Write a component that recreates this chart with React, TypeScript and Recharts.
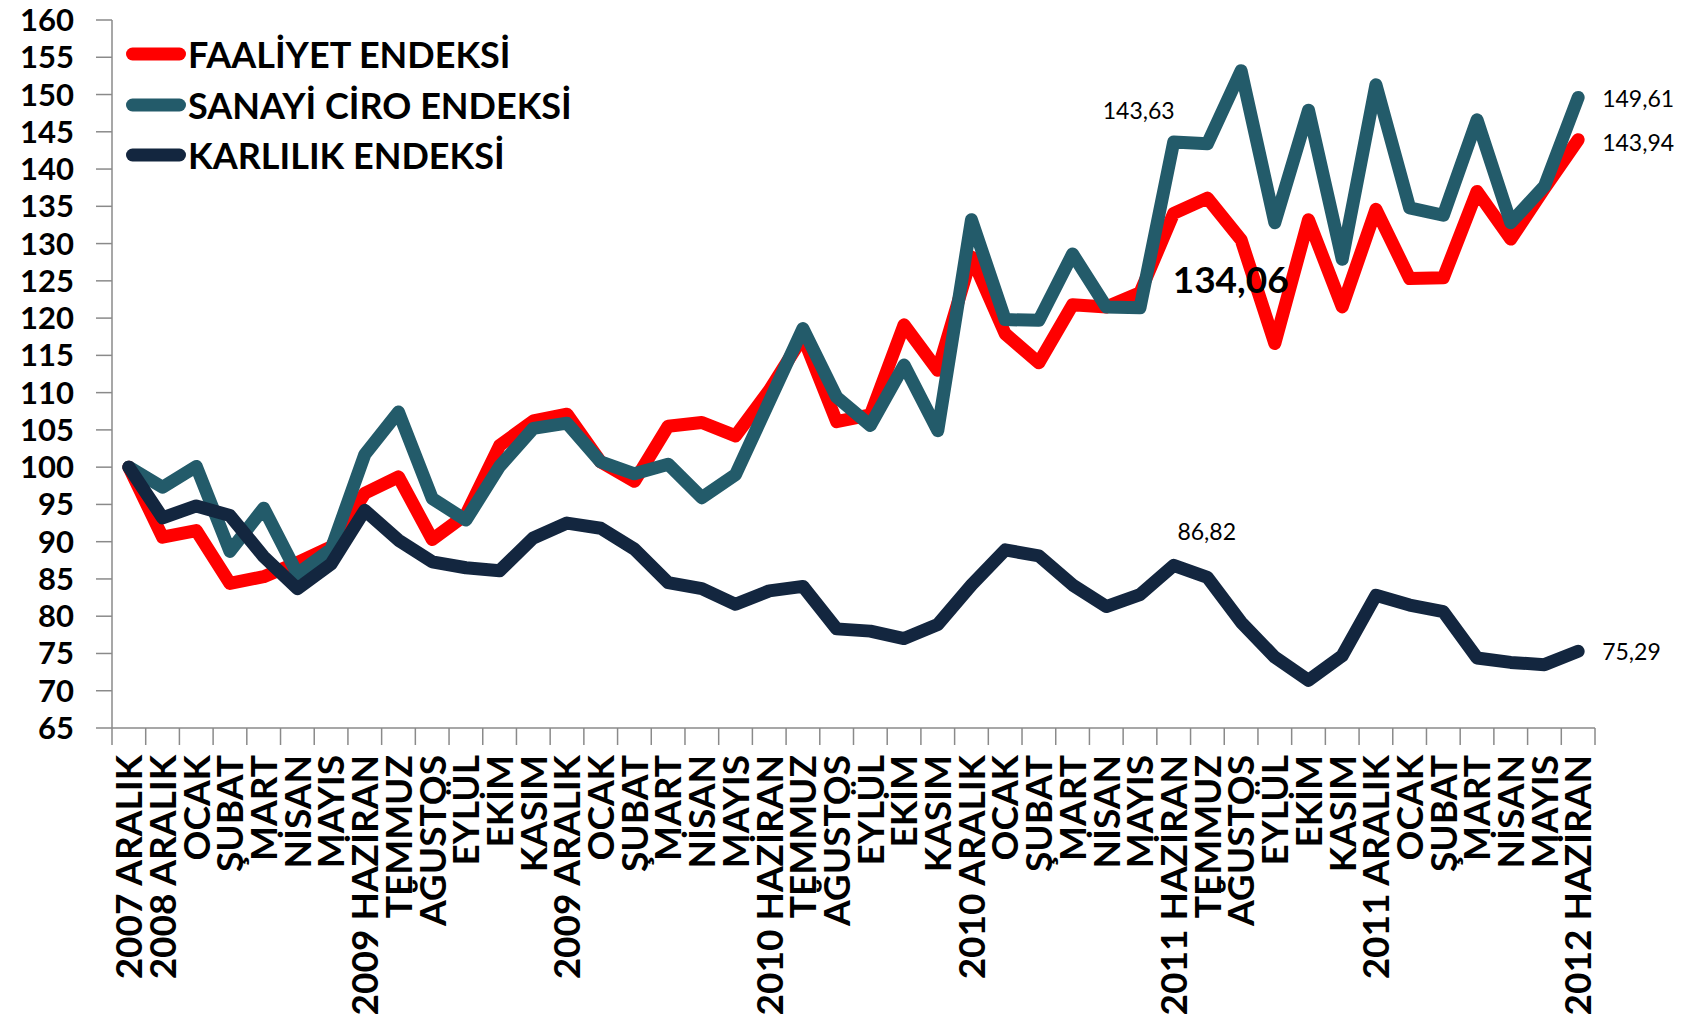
import React from 'react';
import { LineChart, Line, XAxis, YAxis, Legend, LabelList } from 'recharts';

const categories: string[] = [
  '2007 ARALIK', '2008 ARALIK', 'OCAK', 'ŞUBAT', 'MART', 'NİSAN', 'MAYIS',
  '2009 HAZİRAN', 'TEMMUZ', 'AĞUSTOS', 'EYLÜL', 'EKİM', 'KASIM', '2009 ARALIK',
  'OCAK', 'ŞUBAT', 'MART', 'NİSAN', 'MAYIS', '2010 HAZİRAN', 'TEMMUZ', 'AĞUSTOS',
  'EYLÜL', 'EKİM', 'KASIM', '2010 ARALIK', 'OCAK', 'ŞUBAT', 'MART', 'NİSAN', 'MAYIS',
  '2011 HAZİRAN', 'TEMMUZ', 'AĞUSTOS', 'EYLÜL', 'EKİM', 'KASIM', '2011 ARALIK',
  'OCAK', 'ŞUBAT', 'MART', 'NİSAN', 'MAYIS', '2012 HAZİRAN',
];

const faaliyet: number[] = [
  100, 90.6, 91.5, 84.4, 85.3, 87.2, 89.3, 96.5, 98.7, 90.3, 93.6, 102.9, 106.2, 107.1,
  100.7, 98.1, 105.5, 106.0, 104.2, 110.3, 117.5, 106.1, 107.0, 119.1, 113.0, 128.2,
  117.9, 114.0, 121.8, 121.5, 123.4, 134.06, 136.1, 130.5, 116.6, 133.2, 121.5, 134.6,
  125.3, 125.4, 137.0, 130.6, 137.4, 143.94,
];

const sanayi: number[] = [
  100, 97.3, 100.1, 88.7, 94.5, 85.7, 89.0, 101.7, 107.4, 95.8, 92.9, 100.1, 105.2, 105.9,
  100.7, 99.1, 100.4, 95.9, 99.0, 108.8, 118.6, 109.4, 105.6, 113.7, 104.9, 133.2,
  119.8, 119.7, 128.6, 121.5, 121.4, 143.63, 143.4, 153.2, 132.8, 147.9, 127.9, 151.3,
  134.8, 133.8, 146.6, 132.8, 137.7, 149.61,
];

const karlilik: number[] = [
  100, 93.2, 94.8, 93.5, 88.0, 83.7, 87.0, 94.2, 90.2, 87.3, 86.5, 86.1, 90.5, 92.5,
  91.8, 89.0, 84.5, 83.7, 81.6, 83.4, 84.0, 78.3, 78.0, 77.0, 78.9, 84.2,
  88.9, 88.1, 84.2, 81.3, 82.9, 86.82, 85.2, 79.2, 74.5, 71.4, 74.7, 82.8,
  81.5, 80.6, 74.4, 73.8, 73.5, 75.29,
];

const yTicks: number[] = [65, 70, 75, 80, 85, 90, 95, 100, 105, 110, 115, 120, 125, 130, 135, 140, 145, 150, 155, 160];

const seriesNames: string[] = ['FAALİYET ENDEKSİ', 'SANAYİ CİRO ENDEKSİ', 'KARLILIK ENDEKSİ'];
const seriesColors: string[] = ['#FF0000', '#235B6A', '#13263F'];
const labeledIndices: number[] = [31, 43];

const data = categories.map((c, i) => ({
  i,
  faaliyet: faaliyet[i],
  sanayi: sanayi[i],
  karlilik: karlilik[i],
}));

const W = 1692;
const H = 1014;
const M = { top: 20, right: 97, left: 0, bottom: 0 };
const Y_W = 112;
const X_H = 286;
const PLOT_W = W - M.left - M.right - Y_W;
const FONT = 'Lato, "Open Sans", sans-serif';
const AXIS_GRAY = '#8a8a8a';

const fmt = (v: number) => v.toFixed(2).replace('.', ',');

const XTick = (props: any) => {
  const { x, y, payload, index } = props;
  const bw = PLOT_W / categories.length;
  const label = categories[payload.value] ?? '';
  const ty = y + 27;
  return (
    <g>
      <line x1={x - bw / 2} x2={x - bw / 2} y1={y} y2={y + 17} stroke={AXIS_GRAY} strokeWidth={1.5} />
      {index === categories.length - 1 && (
        <line x1={x + bw / 2} x2={x + bw / 2} y1={y} y2={y + 17} stroke={AXIS_GRAY} strokeWidth={1.5} />
      )}
      <text
        x={x}
        y={ty}
        dy="0.36em"
        transform={`rotate(-90, ${x}, ${ty})`}
        textAnchor="end"
        fill="#000"
        style={{ fontFamily: FONT, fontWeight: 700, fontSize: 37 }}
      >
        {label}
      </text>
    </g>
  );
};

type LabelCfg = { index: number; dx: number; dy: number; anchor: 'start' | 'middle' | 'end'; bold?: boolean; size: number };

const makeLabel = (cfgs: LabelCfg[]) => (props: any) => {
  const { x, y, value, index } = props;
  const c = cfgs.find((l) => l.index === index);
  if (!c || x == null || y == null) return null;
  return (
    <text
      x={x + c.dx}
      y={y + c.dy}
      dy="0.36em"
      textAnchor={c.anchor}
      fill="#000"
      style={{ fontFamily: FONT, fontWeight: c.bold ? 700 : 400, fontSize: c.size }}
    >
      {fmt(Number(value))}
    </text>
  );
};

const faaliyetLabels: LabelCfg[] = [
  { index: labeledIndices[0], dx: 57, dy: 66, anchor: 'middle', bold: true, size: 37 },
  { index: labeledIndices[1], dx: 24, dy: 3, anchor: 'start', size: 23 },
];
const sanayiLabels: LabelCfg[] = [
  { index: labeledIndices[0], dx: -35, dy: -31, anchor: 'middle', size: 23 },
  { index: labeledIndices[1], dx: 24, dy: 1, anchor: 'start', size: 23 },
];
const karlilikLabels: LabelCfg[] = [
  { index: labeledIndices[0], dx: 33, dy: -34, anchor: 'middle', size: 23 },
  { index: labeledIndices[1], dx: 24, dy: 0, anchor: 'start', size: 23 },
];

const renderLegend = () => (
  <div style={{ display: 'flex', flexDirection: 'column' }}>
    {seriesNames.map((name, k) => (
      <div key={name} style={{ display: 'flex', alignItems: 'center', height: 50.5 }}>
        <svg width={62} height={16} style={{ display: 'block' }}>
          <line x1={6.5} x2={53.5} y1={8} y2={8} stroke={seriesColors[k]} strokeWidth={13} strokeLinecap="round" />
        </svg>
        <span style={{ fontFamily: FONT, fontWeight: 700, fontSize: 36, color: '#000', lineHeight: 1, whiteSpace: 'nowrap' }}>
          {name}
        </span>
      </div>
    ))}
  </div>
);

export default function App() {
  return (
    <div style={{ position: 'absolute', left: 0, top: 0, width: W, height: H, background: '#fff' }}>
      <LineChart width={W} height={H} data={data} margin={M}>
        <XAxis
          dataKey="i"
          type="category"
          scale="band"
          interval={0}
          height={X_H}
          axisLine={{ stroke: AXIS_GRAY, strokeWidth: 1.5 }}
          tickLine={false}
          tickSize={0}
          tickMargin={0}
          tick={<XTick />}
        />
        <YAxis
          type="number"
          domain={[65, 160]}
          ticks={yTicks}
          interval={0}
          width={Y_W}
          axisLine={{ stroke: AXIS_GRAY, strokeWidth: 1.5 }}
          tickLine={{ stroke: AXIS_GRAY, strokeWidth: 1.5 }}
          tickSize={16}
          tickMargin={22}
          tick={{ fill: '#000', fontFamily: FONT, fontWeight: 700, fontSize: 31 }}
        />
        <Legend
          layout="vertical"
          align="center"
          verticalAlign="middle"
          content={renderLegend}
          wrapperStyle={{ left: 126, top: 29, width: 620, height: 'auto' }}
        />
        <Line
          name={seriesNames[0]}
          dataKey="faaliyet"
          stroke={seriesColors[0]}
          strokeWidth={13}
          strokeLinejoin="round"
          strokeLinecap="round"
          dot={false}
          activeDot={false}
          isAnimationActive={false}
        >
          <LabelList dataKey="faaliyet" content={makeLabel(faaliyetLabels)} />
        </Line>
        <Line
          name={seriesNames[1]}
          dataKey="sanayi"
          stroke={seriesColors[1]}
          strokeWidth={13}
          strokeLinejoin="round"
          strokeLinecap="round"
          dot={false}
          activeDot={false}
          isAnimationActive={false}
        >
          <LabelList dataKey="sanayi" content={makeLabel(sanayiLabels)} />
        </Line>
        <Line
          name={seriesNames[2]}
          dataKey="karlilik"
          stroke={seriesColors[2]}
          strokeWidth={13}
          strokeLinejoin="round"
          strokeLinecap="round"
          dot={false}
          activeDot={false}
          isAnimationActive={false}
        >
          <LabelList dataKey="karlilik" content={makeLabel(karlilikLabels)} />
        </Line>
      </LineChart>
    </div>
  );
}
